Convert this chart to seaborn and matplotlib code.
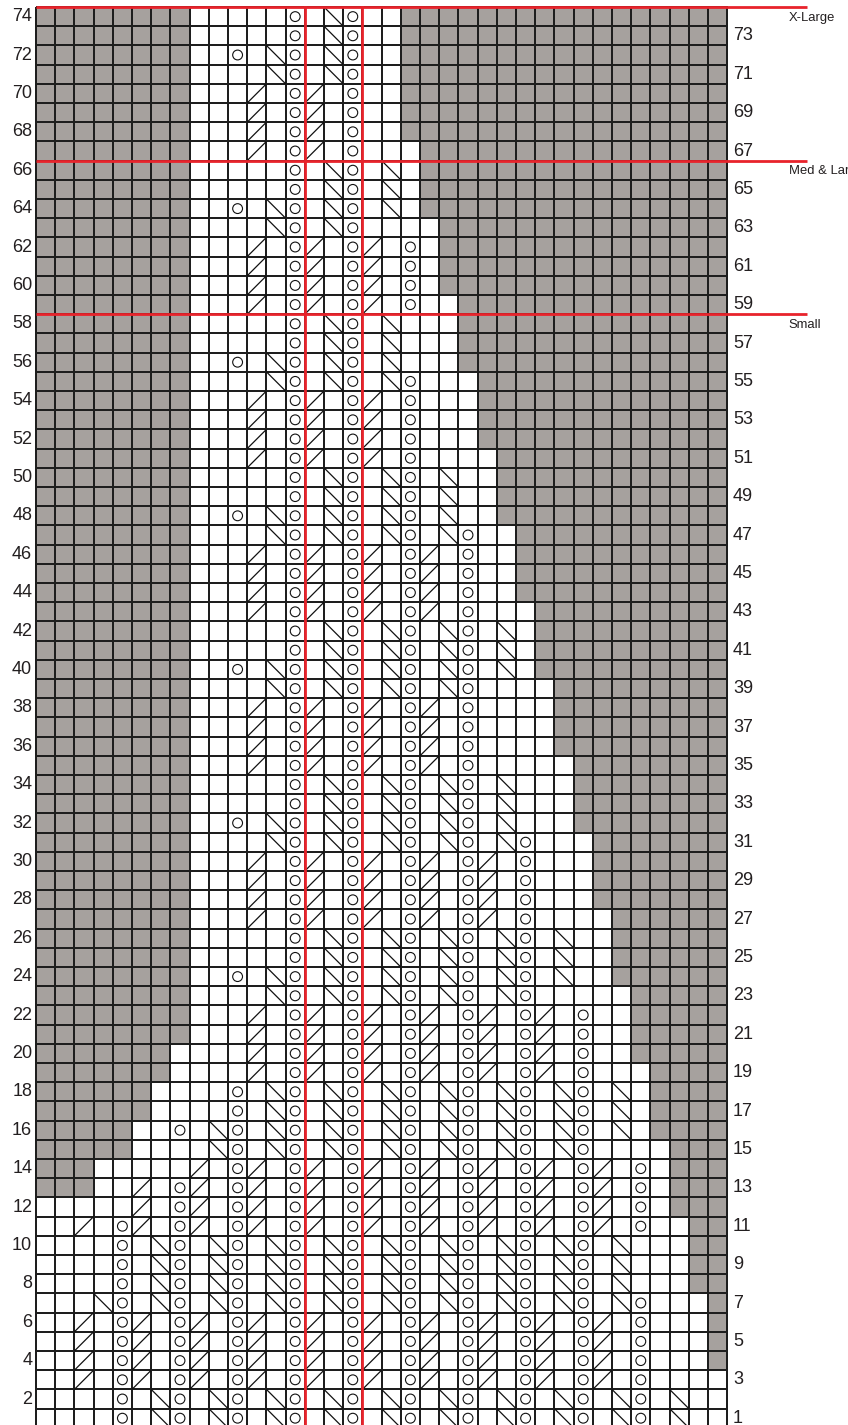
# Lace chart: 74 rows x 36 stitches, three size outlines marked in red
import numpy as np
import pandas as pd
import matplotlib
matplotlib.use("Agg")
import matplotlib.pyplot as plt
import seaborn as sns
from matplotlib.colors import ListedColormap
from matplotlib.collections import LineCollection

# -----------------------------
# Chart data (top row first)
#   '#' no stitch (grey), '.' knit, 'o' yarn over,
#   's' ssk ( \ ), 'k' k2tog ( / )
# -----------------------------
rows = [74, 73, 72, 71, 70, 69, 68, 67, 66, 65, 64, 63, 62, 61, 60, 59,
        58, 57, 56, 55, 54, 53, 52, 51, 50, 49, 48, 47, 46, 45, 44, 43,
        42, 41, 40, 39, 38, 37, 36, 35, 34, 33, 32, 31, 30, 29, 28, 27,
        26, 25, 24, 23, 22, 21, 20, 19, 18, 17, 16, 15, 14, 13, 12, 11,
        10, 9, 8, 7, 6, 5, 4, 3, 2, 1]

chart = [
    "### ### ##. ... .o. so. .## ### ### ### ### ###",  # 74
    "### ### ##. ... .o. so. .## ### ### ### ### ###",  # 73
    "### ### ##. .o. so. so. .## ### ### ### ### ###",  # 72
    "### ### ##. ... so. so. .## ### ### ### ### ###",  # 71
    "### ### ##. ..k .ok .o. .## ### ### ### ### ###",  # 70
    "### ### ##. ..k .ok .o. .## ### ### ### ### ###",  # 69
    "### ### ##. ..k .ok .o. .## ### ### ### ### ###",  # 68
    "### ### ##. ..k .ok .o. ..# ### ### ### ### ###",  # 67
    "### ### ##. ... .o. so. s.# ### ### ### ### ###",  # 66
    "### ### ##. ... .o. so. s.# ### ### ### ### ###",  # 65
    "### ### ##. .o. so. so. s.# ### ### ### ### ###",  # 64
    "### ### ##. ... so. so. ... ### ### ### ### ###",  # 63
    "### ### ##. ..k .ok .ok .o. ### ### ### ### ###",  # 62
    "### ### ##. ..k .ok .ok .o. ### ### ### ### ###",  # 61
    "### ### ##. ..k .ok .ok .o. ### ### ### ### ###",  # 60
    "### ### ##. ..k .ok .ok .o. .## ### ### ### ###",  # 59
    "### ### ##. ... .o. so. s.. .## ### ### ### ###",  # 58
    "### ### ##. ... .o. so. s.. .## ### ### ### ###",  # 57
    "### ### ##. .o. so. so. s.. .## ### ### ### ###",  # 56
    "### ### ##. ... so. so. so. ..# ### ### ### ###",  # 55
    "### ### ##. ..k .ok .ok .o. ..# ### ### ### ###",  # 54
    "### ### ##. ..k .ok .ok .o. ..# ### ### ### ###",  # 53
    "### ### ##. ..k .ok .ok .o. ..# ### ### ### ###",  # 52
    "### ### ##. ..k .ok .ok .o. ... ### ### ### ###",  # 51
    "### ### ##. ... .o. so. so. s.. ### ### ### ###",  # 50
    "### ### ##. ... .o. so. so. s.. ### ### ### ###",  # 49
    "### ### ##. .o. so. so. so. s.. ### ### ### ###",  # 48
    "### ### ##. ... so. so. so. so. .## ### ### ###",  # 47
    "### ### ##. ..k .ok .ok .ok .o. .## ### ### ###",  # 46
    "### ### ##. ..k .ok .ok .ok .o. .## ### ### ###",  # 45
    "### ### ##. ..k .ok .ok .ok .o. .## ### ### ###",  # 44
    "### ### ##. ..k .ok .ok .ok .o. ..# ### ### ###",  # 43
    "### ### ##. ... .o. so. so. so. s.# ### ### ###",  # 42
    "### ### ##. ... .o. so. so. so. s.# ### ### ###",  # 41
    "### ### ##. .o. so. so. so. so. s.# ### ### ###",  # 40
    "### ### ##. ... so. so. so. so. ... ### ### ###",  # 39
    "### ### ##. ..k .ok .ok .ok .o. ... ### ### ###",  # 38
    "### ### ##. ..k .ok .ok .ok .o. ... ### ### ###",  # 37
    "### ### ##. ..k .ok .ok .ok .o. ... ### ### ###",  # 36
    "### ### ##. ..k .ok .ok .ok .o. ... .## ### ###",  # 35
    "### ### ##. ... .o. so. so. so. s.. .## ### ###",  # 34
    "### ### ##. ... .o. so. so. so. s.. .## ### ###",  # 33
    "### ### ##. .o. so. so. so. so. s.. .## ### ###",  # 32
    "### ### ##. ... so. so. so. so. so. ..# ### ###",  # 31
    "### ### ##. ..k .ok .ok .ok .ok .o. ..# ### ###",  # 30
    "### ### ##. ..k .ok .ok .ok .ok .o. ..# ### ###",  # 29
    "### ### ##. ..k .ok .ok .ok .ok .o. ..# ### ###",  # 28
    "### ### ##. ..k .ok .ok .ok .ok .o. ... ### ###",  # 27
    "### ### ##. ... .o. so. so. so. so. s.. ### ###",  # 26
    "### ### ##. ... .o. so. so. so. so. s.. ### ###",  # 25
    "### ### ##. .o. so. so. so. so. so. s.. ### ###",  # 24
    "### ### ##. ... so. so. so. so. so. ... .## ###",  # 23
    "### ### ##. ..k .ok .ok .ok .ok .ok .o. .## ###",  # 22
    "### ### ##. ..k .ok .ok .ok .ok .ok .o. .## ###",  # 21
    "### ### #.. ..k .ok .ok .ok .ok .ok .o. .## ###",  # 20
    "### ### #.. ..k .ok .ok .ok .ok .ok .o. ..# ###",  # 19
    "### ### ... .o. so. so. so. so. so. so. s.# ###",  # 18
    "### ### ... .o. so. so. so. so. so. so. s.# ###",  # 17
    "### ##. .o. so. so. so. so. so. so. so. s.# ###",  # 16
    "### ##. ... so. so. so. so. so. so. so. ... ###",  # 15
    "### ... ..k .ok .ok .ok .ok .ok .ok .ok .o. ###",  # 14
    "### ..k .ok .ok .ok .ok .ok .ok .ok .ok .o. ###",  # 13
    "... ..k .ok .ok .ok .ok .ok .ok .ok .ok .o. ###",  # 12
    "..k .ok .ok .ok .ok .ok .ok .ok .ok .ok .o. .##",  # 11
    "... .o. so. so. so. so. so. so. so. so. s.. .##",  # 10
    "... .o. so. so. so. so. so. so. so. so. s.. .##",  # 9
    "... .o. so. so. so. so. so. so. so. so. s.. .##",  # 8
    "... so. so. so. so. so. so. so. so. so. so. ..#",  # 7
    "..k .ok .ok .ok .ok .ok .ok .ok .ok .ok .o. ..#",  # 6
    "..k .ok .ok .ok .ok .ok .ok .ok .ok .ok .o. ..#",  # 5
    "..k .ok .ok .ok .ok .ok .ok .ok .ok .ok .o. ..#",  # 4
    "..k .ok .ok .ok .ok .ok .ok .ok .ok .ok .o. ...",  # 3
    "... .o. so. so. so. so. so. so. so. so. so. s..",  # 2
    "... .o. so. so. so. so. so. so. so. so. so. s..",  # 1
]

size_names = ["X-Large", "Med & Large", "Small"]
size_start_rows = [74, 66, 58]       # red rule drawn above these rows
repeat_bounds = [14, 17]             # stitch columns bounded by red verticals

grid = [r.replace(" ", "") for r in chart]
n_rows, n_cols = len(grid), len(grid[0])
shade = pd.DataFrame([[1 if ch == "#" else 0 for ch in g] for g in grid], index=rows)

# -----------------------------
# Figure
# -----------------------------
plt.rcParams["font.family"] = ["Liberation Sans", "DejaVu Sans"]
W, H = 848, 1425
cell = 19.2
x0, y0 = 36, 7
fig = plt.figure(figsize=(W / 100, H / 100), dpi=100)
ax = fig.add_axes([x0 / W, 1 - (y0 + n_rows * cell) / H,
                   n_cols * cell / W, n_rows * cell / H])

sns.heatmap(shade, cmap=ListedColormap(["white", "#a6a19e"]), vmin=0, vmax=1,
            cbar=False, linewidths=1.4, linecolor="#1e1e1e",
            xticklabels=False, yticklabels=False, ax=ax)
ax.collections[0].set_clip_on(False)
ax.set_ylabel("")

# symbols
yo_x, yo_y, segs = [], [], []
for i, g in enumerate(grid):
    for c, ch in enumerate(g):
        if ch == "o":
            yo_x.append(c + 0.5)
            yo_y.append(i + 0.5)
        elif ch == "s":
            segs.append([(c, i), (c + 1, i + 1)])
        elif ch == "k":
            segs.append([(c, i + 1), (c + 1, i)])

ax.scatter(yo_x, yo_y, s=50, facecolors="none", edgecolors="#111111",
           linewidths=0.8, zorder=3)
ax.add_collection(LineCollection(segs, colors="#111111", linewidths=0.9, zorder=3))

# red size rules and repeat box
red = "#e8232b"
for name, r in zip(size_names, size_start_rows):
    yy = rows.index(r)
    ax.plot([0, 40.15], [yy, yy], color=red, lw=2.0, clip_on=False, zorder=5,
            solid_capstyle="butt")
    ax.text(39.2, yy + 0.55, name, fontsize=9.4, color="#231f20",
            ha="left", va="center", clip_on=False)
for xb in repeat_bounds:
    ax.plot([xb, xb], [0, n_rows], color=red, lw=2.0, clip_on=False, zorder=5)

# row numbers: even on the left, odd on the right
for i, r in enumerate(rows):
    if r % 2 == 0:
        ax.text(-0.2, i + 0.5, str(r), fontsize=13, color="#231f20",
                ha="right", va="center", clip_on=False)
    else:
        ax.text(36.3, i + 0.5, str(r), fontsize=13, color="#231f20",
                ha="left", va="center", clip_on=False)

ax.set_xlim(0, n_cols)
ax.set_ylim(n_rows, 0)
ax.axis("off")

fig.savefig("out.png", dpi=100)
